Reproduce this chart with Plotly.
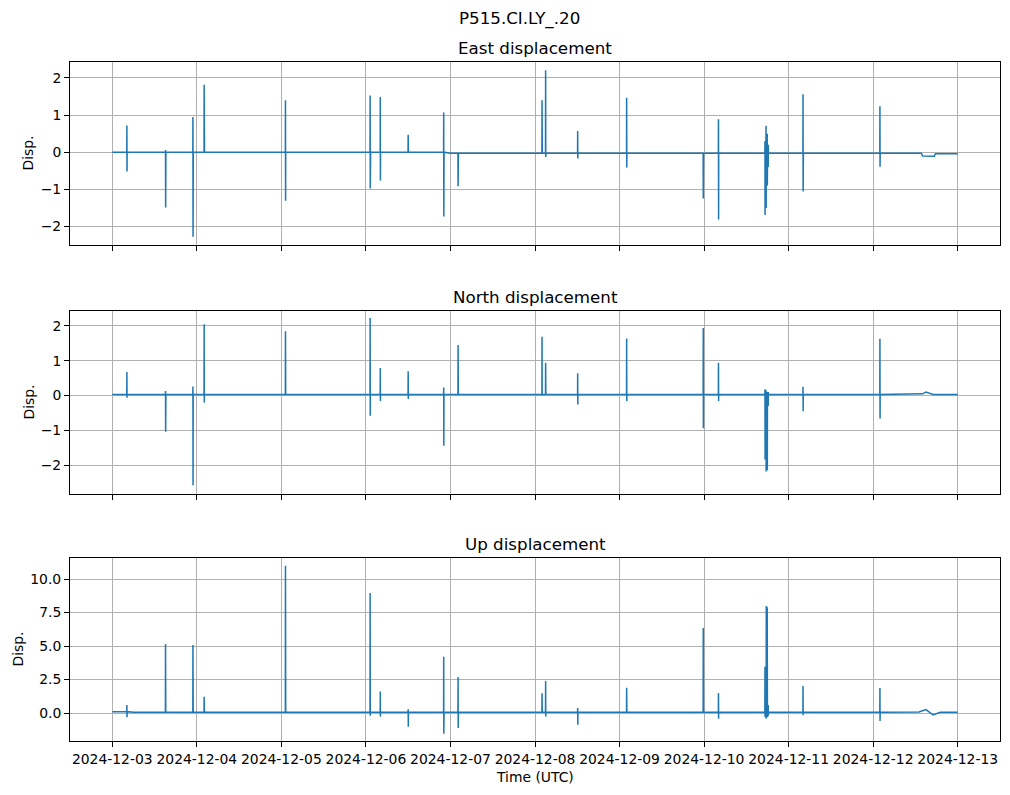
import pandas as pd
import plotly.graph_objects as go
from plotly.subplots import make_subplots

# ---------------- data ----------------
event_times = [
    "2024-12-03 04:09", "2024-12-03 15:07", "2024-12-03 22:54", "2024-12-04 02:05",
    "2024-12-05 01:10", "2024-12-06 01:12", "2024-12-06 04:05", "2024-12-06 12:00",
    "2024-12-06 22:05", "2024-12-07 02:10", "2024-12-08 02:00", "2024-12-08 03:01",
    "2024-12-08 12:07", "2024-12-09 02:01", "2024-12-09 23:46", "2024-12-10 04:05",
    "2024-12-10 17:17", "2024-12-10 17:35", "2024-12-10 17:55", "2024-12-10 18:12",
    "2024-12-11 04:05", "2024-12-12 01:55",
]

east_events = [
    [0.72, -0.52], [0.06, -1.49, -0.27], [0.95, -2.28, -0.6], [1.82, 1.80, 0.0],
    [1.40, -1.31], [1.53, -0.98, 0.3, -0.65], [1.49, -0.76], [0.47, 0.1],
    [1.07, -1.73, -0.3], [-0.92, -0.4, -0.1], [1.40, 0.0], [2.21, -0.13, 0.68],
    [0.57, -0.17], [1.47, -0.41], [-1.25, -0.6], [0.89, -1.81],
    [0.3, -1.69, 0.1], [0.71, -1.5, 0.4], [0.5, -0.9, -0.3], [-0.4, 0.2],
    [1.56, -1.06, -0.56], [1.24, -0.39],
]
north_events = [
    [0.68, -0.06], [0.13, -1.04, -0.66], [0.26, -2.58], [2.05, -0.2],
    [1.85, 1.8], [2.23, -0.58], [0.79, -0.16], [0.70, -0.1],
    [0.23, -1.44], [1.45, 0.3], [1.69, 0.0], [0.94, 0.2],
    [0.64, -0.26], [1.64, -0.16], [1.94, -0.94], [0.94, -0.16],
    [0.18, -1.84], [0.15, -2.18, -0.5], [0.1, -2.15, 0.05], [-0.3, 0.1],
    [0.25, -0.45], [1.63, -0.66],
]
up_events = [
    [0.6, -0.32], [5.15, 0.3], [5.07, 0.8], [1.22, 1.2],
    [11.0, 10.9], [8.96, -0.2], [1.6, -0.27], [0.27, -1.02],
    [4.2, -1.54, 1.47], [2.69, -1.12, -0.3], [1.47, 0.1], [2.39, -0.27],
    [0.37, -0.87], [1.89, 0.2], [6.34, 1.5], [1.49, -0.42],
    [3.46, -0.3], [6.3, -0.42, 7.99], [7.9, 0.5, -0.3], [0.6, -0.2],
    [2.01, -0.17], [1.87, -0.6],
]

east_base_times = ["2024-12-03 00:00", "2024-12-07 00:00", "2024-12-12 13:40",
                   "2024-12-12 14:00", "2024-12-12 17:20", "2024-12-12 17:40",
                   "2024-12-13 00:00"]
east_base_vals = [0.0, -0.03, -0.03, -0.10, -0.11, -0.04, -0.04]
north_base_times = ["2024-12-03 00:00", "2024-12-12 14:00", "2024-12-12 15:00",
                    "2024-12-12 17:00", "2024-12-13 00:00"]
north_base_vals = [0.03, 0.05, 0.10, 0.03, 0.03]
up_base_times = ["2024-12-03 00:00", "2024-12-03 06:00", "2024-12-12 13:00",
                 "2024-12-12 15:00", "2024-12-12 17:00", "2024-12-12 19:00",
                 "2024-12-13 00:00"]
up_base_vals = [0.1, 0.05, 0.08, 0.25, -0.15, 0.05, 0.05]

titles = ["East displacement", "North displacement", "Up displacement"]
x_ticks = ["2024-12-03", "2024-12-04", "2024-12-05", "2024-12-06", "2024-12-07", "2024-12-08",
           "2024-12-09", "2024-12-10", "2024-12-11", "2024-12-12", "2024-12-13"]


def build(base_times, base_vals, events):
    bt = pd.to_datetime(base_times)
    pts = list(zip(bt, base_vals))

    def base_at(t):
        v = base_vals[0]
        for tt, vv in zip(bt, base_vals):
            if tt <= t:
                v = vv
        return v

    step = pd.Timedelta(minutes=2)
    for ts, vals in zip(pd.to_datetime(event_times), events):
        b = base_at(ts)
        pts.append((ts - step, b))
        for k, v in enumerate(vals):
            pts.append((ts + k * step, v))
        pts.append((ts + len(vals) * step, b))
    pts.sort(key=lambda p: p[0])
    return [p[0] for p in pts], [p[1] for p in pts]


series = [
    build(east_base_times, east_base_vals, east_events),
    build(north_base_times, north_base_vals, north_events),
    build(up_base_times, up_base_vals, up_events),
]

# ---------------- figure ----------------
OFF = 8  # page body margin
W, H = 1002, 787
L, R, T, B = 62, 10, 54, 54
PH = H - T - B
PW = W - L - R


def py(p):
    return (H - B - (p - OFF)) / PH


def px(p):
    return (p - OFF - L) / PW


fig = make_subplots(rows=3, cols=1, shared_xaxes=True)
color = "#1f77b4"
for i, (xs, ys) in enumerate(series):
    fig.add_trace(go.Scatter(x=xs, y=ys, mode="lines", line=dict(color=color, width=1.5),
                             showlegend=False, hoverinfo="skip"), row=i + 1, col=1)

panel_px = [(62, 245), (311, 494), (558, 741)]
yranges = [[-2.50, 2.43], [-2.83, 2.43], [-2.09, 11.57]]
ytick_vals = [[-2, -1, 0, 1, 2], [-2, -1, 0, 1, 2], [0, 2.5, 5, 7.5, 10]]
ytick_fmt = ["d", "d", ".1f"]

axis_common = dict(showline=True, mirror=True, linecolor="black", linewidth=1,
                   showgrid=True, gridcolor="#b0b0b0", gridwidth=1, zeroline=False,
                   ticks="outside", ticklen=5, tickcolor="black", tickwidth=1,
                   tickfont=dict(family="DejaVu Sans", size=13.9, color="black"))

for i in range(3):
    top, bot = panel_px[i]
    n = "" if i == 0 else str(i + 1)
    fig.layout["yaxis" + n].update(domain=[py(bot), py(top)], range=yranges[i],
                                   tickvals=ytick_vals[i], tickformat=ytick_fmt[i],
                                   **axis_common)
    fig.layout["xaxis" + n].update(range=["2024-12-02 12:00", "2024-12-13 12:00"],
                                   tickvals=x_ticks, tickformat="%Y-%m-%d",
                                   showticklabels=(i == 2), **axis_common)

annotations = []
for i, t in enumerate(titles):
    top, bot = panel_px[i]
    annotations.append(dict(text=t, x=px(535), y=py(top - 14), xref="paper", yref="paper",
                            showarrow=False, xanchor="center", yanchor="middle",
                            font=dict(family="DejaVu Sans", size=16.7, color="black")))
    lab_x = 28 if i < 2 else 17
    annotations.append(dict(text="Disp.", x=px(lab_x), y=py((top + bot) / 2), xref="paper",
                            yref="paper", showarrow=False, textangle=-90,
                            xanchor="center", yanchor="middle",
                            font=dict(family="DejaVu Sans", size=13.9, color="black")))
annotations.append(dict(text="P515.CI.LY_.20", x=px(519), y=py(18), xref="paper", yref="paper",
                        showarrow=False, xanchor="center", yanchor="middle",
                        font=dict(family="DejaVu Sans", size=16.7, color="black")))
annotations.append(dict(text="Time (UTC)", x=px(535), y=py(777), xref="paper", yref="paper",
                        showarrow=False, xanchor="center", yanchor="middle",
                        font=dict(family="DejaVu Sans", size=13.9, color="black")))

fig.update_layout(width=W, height=H, margin=dict(l=L, r=R, t=T, b=B),
                  paper_bgcolor="white", plot_bgcolor="white",
                  annotations=annotations, showlegend=False)

fig.write_html("out.html")
